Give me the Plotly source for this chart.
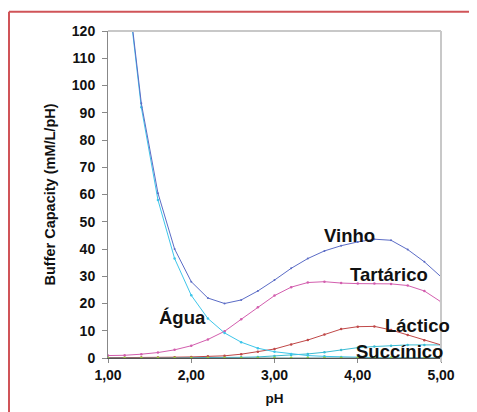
import plotly.graph_objects as go

ph = [1.0, 1.2, 1.4, 1.6, 1.8, 2.0, 2.2, 2.4, 2.6, 2.8, 3.0, 3.2, 3.4, 3.6, 3.8, 4.0, 4.2, 4.4, 4.6, 4.8, 5.0]
agua = [230, 145, 92, 58, 36.5, 23, 14.5, 9.2, 5.8, 3.6, 2.3, 1.5, 0.9, 0.6, 0.4, 0.2, 0.15, 0.1, 0.05, 0.03, 0.02]
tartarico = [0.9, 1.0, 1.4, 2.0, 3.0, 4.5, 6.8, 9.8, 14.2, 18.6, 22.9, 26.0, 27.7, 28.0, 27.5, 27.3, 27.3, 27.2, 26.6, 24.6, 20.6]
lactico = [0.1, 0.1, 0.15, 0.2, 0.3, 0.4, 0.6, 0.8, 1.4, 2.3, 3.3, 5.0, 6.6, 8.6, 10.6, 11.5, 11.6, 10.3, 8.4, 6.5, 4.8]
succinico = [0, 0, 0, 0, 0, 0.05, 0.1, 0.15, 0.25, 0.4, 0.7, 1.1, 1.5, 2.1, 2.9, 3.8, 4.2, 4.5, 4.8, 4.8, 4.8]
outro = [0, 0, 0, 0, 0, 0, 0, 0, 0, 0, 0, 0, 0, 0, 0, 0, 0, 0, 0, 0, 0]
vinho = [232, 146, 93.5, 60.5, 40, 28, 22, 20, 21.3, 24.6, 28.6, 32.9, 36.5, 39.3, 41.2, 42.6, 43.6, 43.2, 39.8, 35.3, 29.8]

y_ticks = [0, 10, 20, 30, 40, 50, 60, 70, 80, 90, 100, 110, 120]
x_ticks = [1, 2, 3, 4, 5]
x_ticktext = ["1,00", "2,00", "3,00", "4,00", "5,00"]

labels = ["Vinho", "Tartárico", "Água", "Láctico", "Succínico"]
label_x = [3.90, 4.37, 1.89, 4.72, 4.50]
label_y = [45.0, 30.5, 15.0, 12.1, 2.4]

FONT = "Arial, Liberation Sans, sans-serif"

series = [
    ("Succínico", succinico, "#3CBCD4", "#3CBCD4", 2.5),
    ("Láctico", lactico, "#C04848", "#C04848", 2.5),
    ("Tartárico", tartarico, "#D35EAE", "#D35EAE", 2.5),
    ("Água", agua, "#3EC6EA", "#3EC6EA", 2.5),
    ("Vinho", vinho, "#5B6CC6", "#5B6CC6", 2),
    ("outro", outro, "#5E8A8A", "#8CC63F", 3),
]

fig = go.Figure()
for name, ys, lc, mc, ms in series:
    fig.add_trace(go.Scatter(
        x=ph, y=ys, name=name, mode="lines+markers",
        line=dict(color=lc, width=1),
        marker=dict(color=mc, size=ms),
        showlegend=False,
    ))

for t, xx, yy in zip(labels, label_x, label_y):
    fig.add_annotation(x=xx, y=yy, text=t, showarrow=False,
                       font=dict(family=FONT, size=18.5, color="#111111", weight="bold"))

W, H = 469, 404
L, R, T, B = 100, 36, 23, 54
pw, ph_ = W - L - R, H - T - B

def px_to_paper_x(px):
    return (px - L) / pw

def px_to_paper_y(py):
    return (H - B - py) / ph_

# plot-area gray frame (top and right)
fig.add_shape(type="line", xref="paper", yref="paper", x0=0, x1=1, y0=1, y1=1,
              line=dict(color="#C8C8C8", width=2))
fig.add_shape(type="line", xref="paper", yref="paper", x0=1, x1=1, y0=px_to_paper_y(354), y1=1,
              line=dict(color="#C8C8C8", width=2))

# red outer frame
fx, fy = 1, 3.8
fig.add_shape(type="line", xref="paper", yref="paper",
              x0=px_to_paper_x(fx), x1=px_to_paper_x(W + 5),
              y0=px_to_paper_y(fy), y1=px_to_paper_y(fy),
              line=dict(color="#D05458", width=2))
fig.add_shape(type="line", xref="paper", yref="paper",
              x0=px_to_paper_x(fx), x1=px_to_paper_x(fx),
              y0=px_to_paper_y(fy), y1=px_to_paper_y(H + 5),
              line=dict(color="#D05458", width=2))

fig.update_layout(
    width=W, height=H,
    margin=dict(l=L, r=R, t=T, b=B, autoexpand=False),
    paper_bgcolor="white", plot_bgcolor="white",
    font=dict(family=FONT, color="#111111"),
    xaxis=dict(
        range=[1, 5], tickvals=x_ticks, ticktext=x_ticktext,
        showgrid=False, zeroline=False,
        showline=True, linecolor="#555555", linewidth=1,
        ticks="outside", ticklen=4, tickcolor="#888888",
        tickfont=dict(family=FONT, size=14, weight="bold", color="#111111"),
        title=dict(text="pH", font=dict(family=FONT, size=13.5, weight="bold", color="#111111"), standoff=11),
    ),
    yaxis=dict(
        range=[0, 120], tickvals=y_ticks,
        showgrid=False, zeroline=False,
        showline=True, linecolor="#888888", linewidth=1,
        ticks="outside", ticklen=5, tickcolor="#888888",
        ticklabelstandoff=4,
        tickfont=dict(family=FONT, size=14, weight="bold", color="#111111"),
        title=dict(text="Buffer Capacity (mM/L/pH)", font=dict(family=FONT, size=14.5, weight="bold", color="#111111"), standoff=12),
    ),
)

fig.write_html("out.html")
